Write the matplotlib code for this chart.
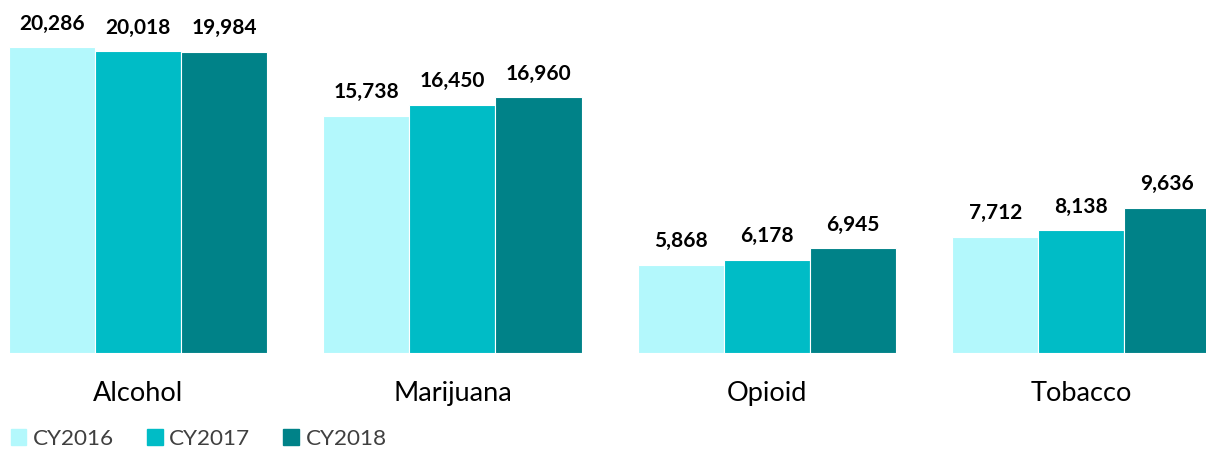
import numpy as np
import matplotlib.pyplot as plt
from matplotlib.patches import Patch

categories = ["Alcohol", "Marijuana", "Opioid", "Tobacco"]
years = ["CY2016", "CY2017", "CY2018"]
cy2016 = [20286, 15738, 5868, 7712]
cy2017 = [20018, 16450, 6178, 8138]
cy2018 = [19984, 16960, 6945, 9636]
colors = ["#B3F8FC", "#00BCC6", "#008288"]

plt.rcParams["font.family"] = ["Lato", "DejaVu Sans"]

fig = plt.figure(figsize=(12.06, 4.49), dpi=100)
ax = fig.add_axes([0, 0.2138, 1, 0.786])

x = np.arange(len(categories))
width = 0.2735
for i, (vals, col) in enumerate(zip([cy2016, cy2017, cy2018], colors)):
    pos = x + (i - 1) * width
    ax.bar(pos, vals, width, color=col, edgecolor="white", linewidth=0.8)
    for p, v in zip(pos, vals):
        ax.text(p, v + 900, f"{v:,}", ha="center", va="bottom",
                fontsize=15, fontweight="bold", color="black")

ax.set_xlim(-0.4388, 3.396)
ax.set_ylim(0, 23408)
ax.axis("off")

for xi, c in zip(x, categories):
    ax.text(xi, -2700, c, ha="center", va="center", fontsize=19.5, color="black")

handles = [Patch(color=c) for c in colors]
fig.legend(handles, years, loc="lower left", bbox_to_anchor=(-0.008, -0.045), ncol=3,
           frameon=False, fontsize=16.2, handlelength=0.7, handleheight=0.7,
           handletextpad=0.3, columnspacing=1.45, labelcolor="#404040")

fig.savefig("out.png", dpi=100)
